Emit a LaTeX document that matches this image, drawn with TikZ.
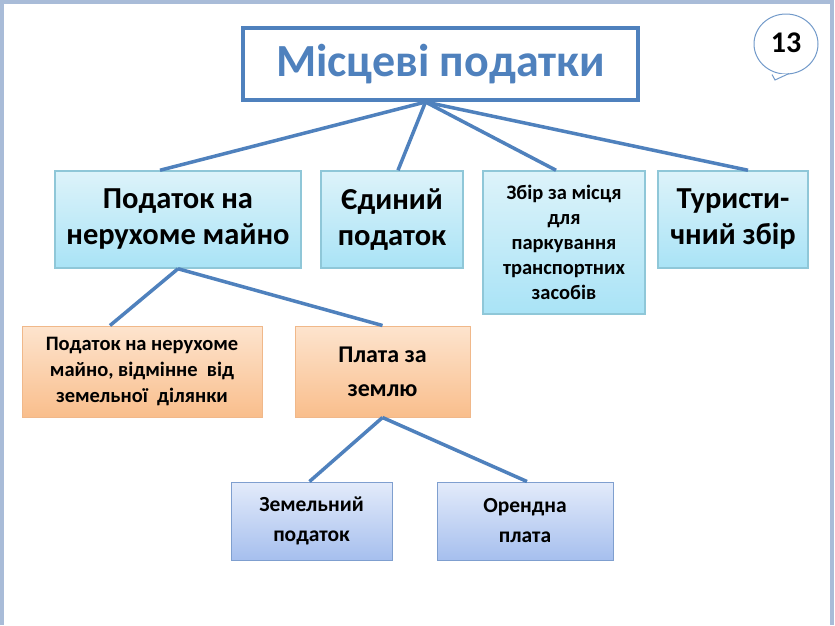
\documentclass[tikz,border=0pt]{standalone}
\usepackage{fontspec}
\setmainfont{Carlito}
\usetikzlibrary{shapes.geometric}
\begin{document}
\begin{tikzpicture}[x=1pt,y=-1pt,
  conn/.style={draw=lnblue,line width=3.5pt},
  cyanbox/.style={draw=cyborder,line width=1.5pt,top color=cytop,bottom color=cybot,align=center,font=\bfseries},
  orbox/.style={draw=orborder,line width=1pt,top color=ortop,bottom color=orbot,align=center,font=\bfseries},
  blbox/.style={draw=blborder,line width=1pt,top color=bltop,bottom color=blbot,align=center,font=\bfseries}]
\definecolor{lnblue}{HTML}{4F81BD}
\definecolor{cyborder}{HTML}{8FC7D8}
\definecolor{cytop}{HTML}{DDF3FA}
\definecolor{cybot}{HTML}{A9E3F6}
\definecolor{orborder}{HTML}{F0B88A}
\definecolor{ortop}{HTML}{FDE4CE}
\definecolor{orbot}{HTML}{F9BE8C}
\definecolor{blborder}{HTML}{7F9FCF}
\definecolor{bltop}{HTML}{E3EBFA}
\definecolor{blbot}{HTML}{A6BFEE}
\definecolor{frame}{HTML}{6F8FBF}
\useasboundingbox (0,0) rectangle (835,625);
\fill[white] (0,0) rectangle (835,625);
\draw[frame!60,line width=4pt] (2,625) -- (2,2) -- (832,2) -- (832,625);
% title
\node[draw=lnblue,line width=4pt,fill=white,minimum width=395pt,minimum height=72pt,text=lnblue,font=\bfseries\fontsize{46}{48}\selectfont] (t) at (440.5,64) {Місцеві податки};
% level 2
\node[cyanbox,minimum width=246pt,minimum height=97pt,font=\bfseries\fontsize{30.5}{36}\selectfont] (a) at (178,219.5) {Податок на\\нерухоме майно};
\node[cyanbox,minimum width=142pt,minimum height=97pt,font=\bfseries\fontsize{30.5}{36}\selectfont] (b) at (392,219.5) {Єдиний\\податок};
\node[cyanbox,minimum width=162pt,minimum height=143pt,font=\bfseries\fontsize{20.5}{25}\selectfont] (c) at (564,242.5) {Збір за місця\\для\\паркування\\транспортних\\засобів};
\node[cyanbox,minimum width=150pt,minimum height=97pt,font=\bfseries\fontsize{30.5}{36}\selectfont] (d) at (733,219.5) {Туристи-\\чний збір};
% level 3
\node[orbox,minimum width=240pt,minimum height=91pt,font=\bfseries\fontsize{20.5}{26}\selectfont] (e) at (142,371.5) {Податок на нерухоме\\майно, відмінне~~від\\земельної~~ділянки};
\node[orbox,minimum width=175pt,minimum height=91pt,font=\bfseries\fontsize{24}{34}\selectfont] (f) at (382.5,371.5) {Плата за\\землю};
% level 4
\node[blbox,minimum width=161pt,minimum height=78pt,font=\bfseries\fontsize{21.5}{30}\selectfont] (g) at (311.5,521) {Земельний\\податок};
\node[blbox,minimum width=176pt,minimum height=78pt,font=\bfseries\fontsize{21.5}{30}\selectfont] (h) at (525,521) {Орендна\\плата};
% connectors
\coordinate (tb) at ([xshift=-15pt]t.south);
\draw[conn] (tb) -- ([xshift=-18pt]a.north);
\draw[conn] (tb) -- ([xshift=6pt]b.north);
\draw[conn] (tb) -- ([xshift=-8pt]c.north);
\draw[conn] (tb) -- ([xshift=15pt]d.north);
\draw[conn] (a.south) -- ([xshift=-32pt]e.north);
\draw[conn] (a.south) -- ([xshift=0pt]f.north);
\draw[conn] (f.south) -- ([xshift=-2pt]g.north);
\draw[conn] (f.south) -- ([xshift=2pt]h.north);
% bubble
\node[draw=lnblue!80,line width=1pt,fill=white,ellipse,minimum width=64pt,minimum height=60pt,inner sep=0pt] (bub) at (786,44) {};
\draw[draw=lnblue!80,line width=1pt,fill=white] ([shift={(-14,0)}]bub.south) -- (775,80) -- ([shift={(3,-1)}]bub.south);
\node[font=\bfseries\fontsize{30}{32}\selectfont] (num) at (786,43) {13};
\end{tikzpicture}
\end{document}
